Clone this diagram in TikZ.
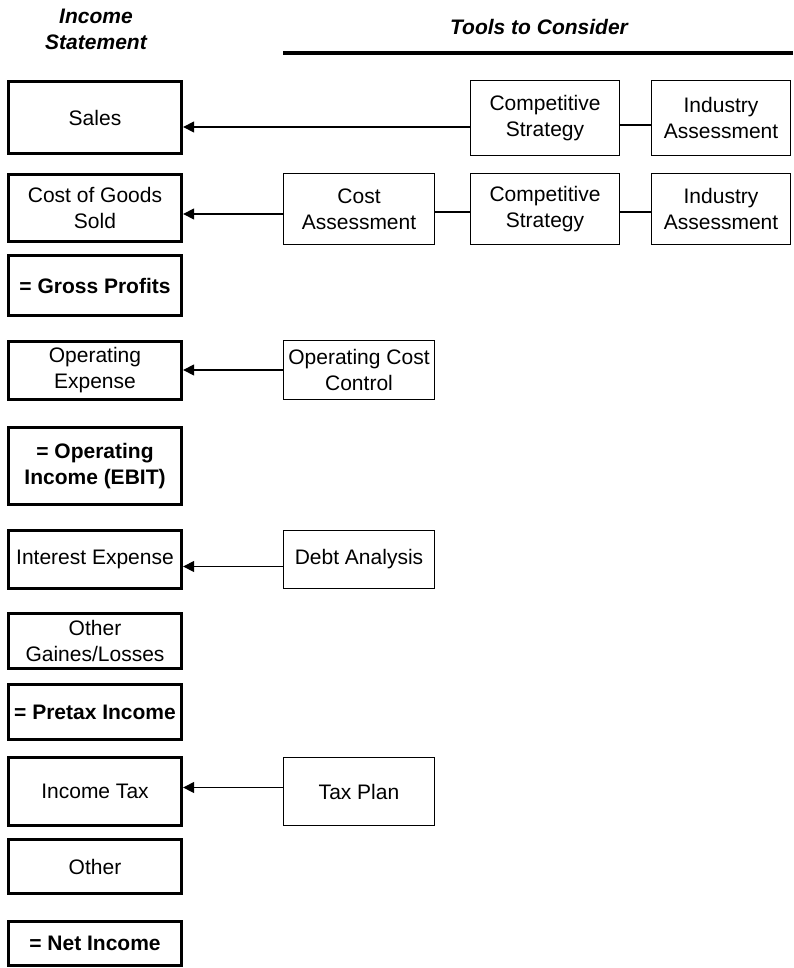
\documentclass[tikz,border=0pt]{standalone}
\usepackage{fontspec}
\setmainfont{Liberation Sans}
\usetikzlibrary{positioning,arrows.meta}

\begin{document}
\begin{tikzpicture}[x=1pt,y=-1pt,>={Triangle[length=11pt,width=11pt]},
  font=\fontsize{21}{26}\selectfont]
  \tikzstyle{item}=[draw,line width=3.3pt,minimum width=173pt,align=center,inner sep=2pt]
  \tikzstyle{total}=[item,font=\fontsize{21}{26}\selectfont\bfseries]
  \tikzstyle{tool}=[draw,line width=1.6pt,minimum width=151pt,align=center,inner sep=2pt]
  \tikzstyle{head}=[font=\fontsize{21}{26}\selectfont\bfseries\itshape,align=center]
  \useasboundingbox (0,0) rectangle (793,968);

  % headers
  \node[head] (hstmt) at (96,29) {Income\\Statement};
  \node[head] (htools) at (539,27) {Tools to Consider};
  \coordinate (rulea) at (283,53);
  \coordinate (ruleb) at (793,53);
  \draw[line width=4pt] (rulea) -- (ruleb);

  % income statement column
  \node[item,minimum height=72pt] (sales) at (95,117.5) {Sales};
  \node[item,minimum height=67pt] (cogs) at (95,208) {Cost of Goods\\Sold};
  \node[total,minimum height=60pt] (gross) at (95,285.5) {= Gross Profits};
  \node[item,minimum height=58pt] (opex) at (95,370.5) {Operating\\Expense};
  \node[total,minimum height=77pt] (ebit) at (95,466) {= Operating\\Income (EBIT)};
  \node[item,minimum height=58pt] (interest) at (95,559.5) {Interest Expense};
  \node[item,minimum height=55pt] (othergl) at (95,641) {Other\\Gaines/Losses};
  \node[total,minimum height=55pt] (pretax) at (95,712) {= Pretax Income};
  \node[item,minimum height=68pt] (tax) at (95,791.5) {Income Tax};
  \node[item,minimum height=54pt] (other) at (95,866.5) {Other};
  \node[total,minimum height=44pt] (net) at (95,943.5) {= Net Income};

  % tools
  \node[tool,minimum width=149pt,minimum height=75pt] (strat1) at (545,118) {Competitive\\Strategy};
  \node[tool,minimum width=139pt,minimum height=75pt] (indus1) at (721,118) {Industry\\Assessment};
  \node[tool,minimum height=71pt] (costas) at (359,209) {Cost\\Assessment};
  \node[tool,minimum width=149pt,minimum height=71pt] (strat2) at (545,209) {Competitive\\Strategy};
  \node[tool,minimum width=139pt,minimum height=71pt] (indus2) at (721,209) {Industry\\Assessment};
  \node[tool,minimum height=59pt] (opcost) at (359,370) {Operating Cost\\Control};
  \node[tool,minimum height=58pt] (debt) at (359,559.5) {Debt Analysis};
  \node[tool,minimum height=68pt] (taxplan) at (359,791.5) {Tax Plan};

  % connectors
  \draw[->,line width=1.2pt] ([yshift=-9pt]strat1.west) -- ([yshift=-9pt]strat1.west -| sales.east);
  \draw[line width=1.6pt] ([yshift=-7pt]strat1.east) -- ([yshift=-7pt]strat1.east -| indus1.west);
  \draw[->,line width=1.2pt] ([yshift=-5pt]costas.west) -- ([yshift=-5pt]costas.west -| cogs.east);
  \draw[line width=1.6pt] ([yshift=-3pt]costas.east) -- ([yshift=-3pt]costas.east -| strat2.west);
  \draw[line width=1.6pt] ([yshift=-3pt]strat2.east) -- ([yshift=-3pt]strat2.east -| indus2.west);
  \draw[->,line width=1.2pt] (opcost.west) -- (opcost.west -| opex.east);
  \draw[->,line width=1.2pt] ([yshift=-7pt]debt.west) -- ([yshift=-7pt]debt.west -| interest.east);
  \draw[->,line width=1.2pt] ([yshift=4pt]taxplan.west) -- ([yshift=4pt]taxplan.west -| tax.east);
\end{tikzpicture}
\end{document}
